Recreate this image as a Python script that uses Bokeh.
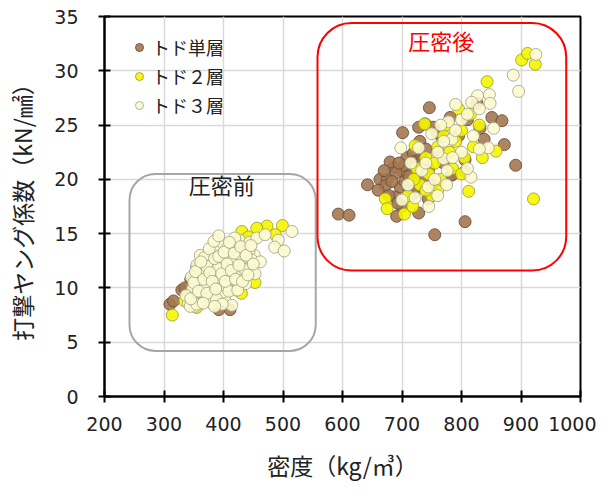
from bokeh.plotting import figure
from bokeh.models import BoxAnnotation, Label, Legend, LegendItem, FixedTicker, Range1d
from bokeh.embed import file_html
from bokeh.resources import INLINE

# トド単層
x_single = [310, 316, 330, 392, 411, 375, 420, 375, 355, 340, 360, 380, 400, 395, 345, 365, 385, 405, 370, 350,
            415, 390, 360, 430, 335, 380, 400, 420,
            746, 701, 642, 593, 611, 691, 728, 755, 744, 689, 663, 675, 672, 686, 700, 704, 708, 719, 725, 719,
            728, 739, 753, 759, 767, 781, 783, 806, 697, 711, 826, 851, 868, 831, 838, 872, 891, 806, 784, 806,
            680, 715, 735, 745, 760, 730, 750, 690, 720, 770, 795, 810, 700, 740,
            660, 670, 683, 695, 705, 712, 678, 693, 723, 735]
y_single = [8.5, 8.8, 9.8, 8.0, 8.0, 12.8, 13.75, 8.9, 11.9, 9.5, 10.5, 11.5, 12.0, 10.2, 10.8, 9.2, 9.8, 11.0, 12.2, 9.0,
            12.5, 13.0, 12.0, 11.5, 10.0, 10.0, 9.5, 10.5,
            26.6, 24.3, 19.5, 16.8, 16.7, 16.6, 16.9, 14.9, 18.2, 18.4, 20.0, 20.0, 19.4, 21.1, 20.8, 21.3, 22.0, 22.4, 21.7, 21.6,
            24.8, 25.1, 24.8, 24.3, 23.9, 25.7, 20.4, 16.1, 19.3, 19.3, 27.0, 25.7, 25.4, 24.7, 23.7, 23.2, 21.3, 21.8, 20.4, 20.7,
            21.6, 20.5, 20.0, 21.0, 22.5, 23.5, 19.5, 20.6, 18.7, 21.5, 24.0, 25.5, 17.5, 22.8,
            19.0, 20.8, 19.8, 21.5, 19.8, 20.3, 18.5, 17.8, 19.3, 21.8]

# トド２層
x_two = [473, 499, 456, 487, 314, 453, 408, 397, 431, 442, 340, 355, 370, 420, 445, 350, 385, 430, 440, 360, 400, 410, 380, 335,
         901, 911, 924, 843, 858, 812, 921, 672, 675, 704, 718, 738, 760, 722,
         740, 755, 765, 780, 790, 800, 775, 815, 820, 745, 730, 760, 785, 805, 725, 750, 770, 795, 830, 740, 710, 720, 835, 800]
y_two = [15.7, 15.75, 15.5, 14.9, 7.5, 10.5, 9.8, 9.1, 15.2, 14.7, 9.0, 8.2, 9.5, 11.0, 12.0, 10.2, 8.7, 9.5, 13.5, 11.3, 10.5, 12.5, 13.0, 8.8,
         31.0, 31.6, 30.6, 29.0, 22.6, 18.9, 18.2, 18.2, 17.3, 16.8, 17.5, 25.1, 19.0, 23.1,
         22.0, 21.5, 20.0, 22.5, 23.5, 24.5, 25.0, 26.0, 23.0, 20.5, 19.5, 23.0, 21.0, 22.0, 21.0, 18.5, 24.0, 26.5, 25.0, 19.0, 18.5, 20.0, 22.0, 20.5]

# トド３層
x_three = [341, 348, 352, 357, 363, 366, 371, 374, 378, 382, 386, 389, 393, 396, 399, 402, 405, 408, 411, 414,
           417, 421, 423, 427, 430, 433, 437, 440, 444, 448, 452, 456, 346, 355, 361, 368, 376, 384, 391, 398,
           407, 416, 425, 434, 443, 359, 369, 380, 388, 395, 404, 412, 419, 428, 436, 447, 337, 350, 372, 392,
           409, 424, 462, 453, 424, 414, 344, 355, 515, 470, 492, 486, 502,
           345, 353, 358, 362, 367, 372, 377, 381, 385, 387, 392, 397, 401, 403, 406, 410, 413, 418, 420, 426,
           429, 432, 438, 441, 446, 450, 398, 385, 366,
           925, 887, 896, 847, 848, 827, 817, 854, 845, 830, 816, 698, 790, 778, 728, 750, 710, 722, 700, 744, 733, 770, 776, 784,
           760, 790, 800, 810, 820, 770, 740, 755, 800, 810, 785, 830, 765, 715, 745, 760, 775]
y_three = [8.6, 9.9, 8.3, 10.6, 9.4, 11.7, 8.9, 10.3, 12.4, 9.6, 11.1, 13.3, 10.0, 12.0, 14.1, 8.9, 11.4, 12.9, 10.3, 13.8,
           11.9, 9.8, 12.6, 14.4, 11.1, 13.2, 10.4, 12.3, 14.2, 11.6, 13.0, 14.6, 11.0, 12.1, 13.0, 12.8, 13.6, 14.3, 11.8, 9.6,
           13.7, 12.5, 11.5, 12.0, 13.4, 8.6, 10.1, 8.6, 9.0, 10.9, 10.2, 11.0, 14.6, 13.0, 11.7, 12.6, 9.3, 10.5, 12.0, 14.8,
           9.7, 10.7, 12.4, 11.3, 9.8, 8.4, 8.3, 8.5, 15.2, 14.9, 14.4, 13.75, 13.4,
           9.0, 11.5, 9.7, 12.4, 10.8, 9.5, 11.4, 10.6, 12.7, 9.9, 12.9, 11.3, 13.3, 10.6, 12.2, 14.2, 11.6, 13.2, 10.8, 12.1,
           13.8, 10.6, 13.0, 11.2, 13.9, 12.2, 8.5, 8.3, 8.6,
           31.5, 29.6, 28.1, 27.8, 27.0, 27.7, 27.1, 24.7, 22.9, 22.8, 20.2, 22.9, 26.9, 25.3, 22.9, 24.2, 19.5, 18.3, 18.1, 19.3, 20.8, 21.9, 20.8, 23.7,
           22.5, 24.5, 25.5, 26.0, 24.0, 23.5, 21.5, 20.0, 22.5, 21.0, 22.0, 26.5, 25.0, 21.5, 17.5, 18.5, 19.5]

series_names = ["トド単層", "トド２層", "トド３層"]
x_ticks = [200, 300, 400, 500, 600, 700, 800, 900, 1000]
y_ticks = [0, 5, 10, 15, 20, 25, 30, 35]

JP = "Noto Sans CJK JP"

p = figure(frame_width=476, frame_height=380, min_border_left=104, min_border_right=16,
           min_border_top=16, min_border_bottom=80,
           output_backend="svg", toolbar_location=None,
           x_range=Range1d(200, 1000), y_range=Range1d(0, 35))
p.background_fill_color = "white"
p.outline_line_color = "black"
p.outline_line_width = 2

for ax in (p.xaxis[0], p.yaxis[0]):
    ax.axis_line_color = "black"
    ax.axis_line_width = 2
    ax.major_tick_line_color = "black"
    ax.major_tick_line_width = 2
    ax.major_tick_in = 6
    ax.major_tick_out = 6
    ax.minor_tick_line_color = None
    ax.major_label_text_font = "DejaVu Sans"
    ax.major_label_text_font_size = "19px"
    ax.major_label_text_color = "#222222"
    ax.axis_label_text_font = JP
    ax.axis_label_text_font_size = "23px"
    ax.axis_label_text_font_style = "normal"
    ax.axis_label_text_color = "#222222"

p.xaxis.ticker = FixedTicker(ticks=x_ticks)
p.yaxis.ticker = FixedTicker(ticks=y_ticks)
p.xaxis.axis_label = "密度（kg/㎥）"
p.yaxis.axis_label = "打撃ヤング係数（kN/㎟）"
p.xaxis.major_label_standoff = 14
p.yaxis.major_label_standoff = 20
p.xaxis.axis_label_standoff = 14
p.yaxis.axis_label_standoff = 12

p.xgrid.grid_line_color = "#d9d9d9"
p.ygrid.grid_line_color = "#d9d9d9"
p.xgrid.grid_line_width = 1.5
p.ygrid.grid_line_width = 1.5

# rounded boxes
box_pre = BoxAnnotation(left=242, right=555, bottom=4.2, top=20.5, fill_alpha=0,
                        line_color="#a6a6a6", line_alpha=1, line_width=2, border_radius=26, level="underlay")
box_post = BoxAnnotation(left=558, right=976, bottom=11.6, top=34.4, fill_alpha=0,
                         line_color="#ff0000", line_alpha=1, line_width=2, border_radius=34, level="underlay")
p.add_layout(box_pre)
p.add_layout(box_post)

p.add_layout(Label(x=397, y=19.6, text="圧密前", text_font=JP, text_font_size="22px",
                   text_color="#222222", text_align="center", text_baseline="middle"))
p.add_layout(Label(x=766, y=32.8, text="圧密後", text_font=JP, text_font_size="22px",
                   text_color="#ff0000", text_align="center", text_baseline="middle"))

r1 = p.scatter(x_single, y_single, size=12, fill_color="#a57850", line_color="#6b5040",
               fill_alpha=0.9, line_alpha=0.9, line_width=1)
r2 = p.scatter(x_two, y_two, size=12, fill_color="#f5f500", line_color="#9a9a20",
               fill_alpha=0.9, line_alpha=0.8, line_width=1)
r3 = p.scatter(x_three, y_three, size=12, fill_color="#fdfbd2", line_color="#a8a890",
               fill_alpha=0.9, line_alpha=0.9, line_width=1)

legend = Legend(items=[LegendItem(label=series_names[0], renderers=[r1]),
                       LegendItem(label=series_names[1], renderers=[r2]),
                       LegendItem(label=series_names[2], renderers=[r3])],
                location=(25, 278), orientation="vertical",
                background_fill_alpha=0, border_line_color=None,
                label_text_font=JP, label_text_font_size="18px", label_text_color="#222222",
                glyph_width=20, glyph_height=22, label_height=22, spacing=3,
                label_standoff=3, padding=0, margin=0)
p.add_layout(legend)

open("out.html", "w").write(file_html(p, INLINE))
